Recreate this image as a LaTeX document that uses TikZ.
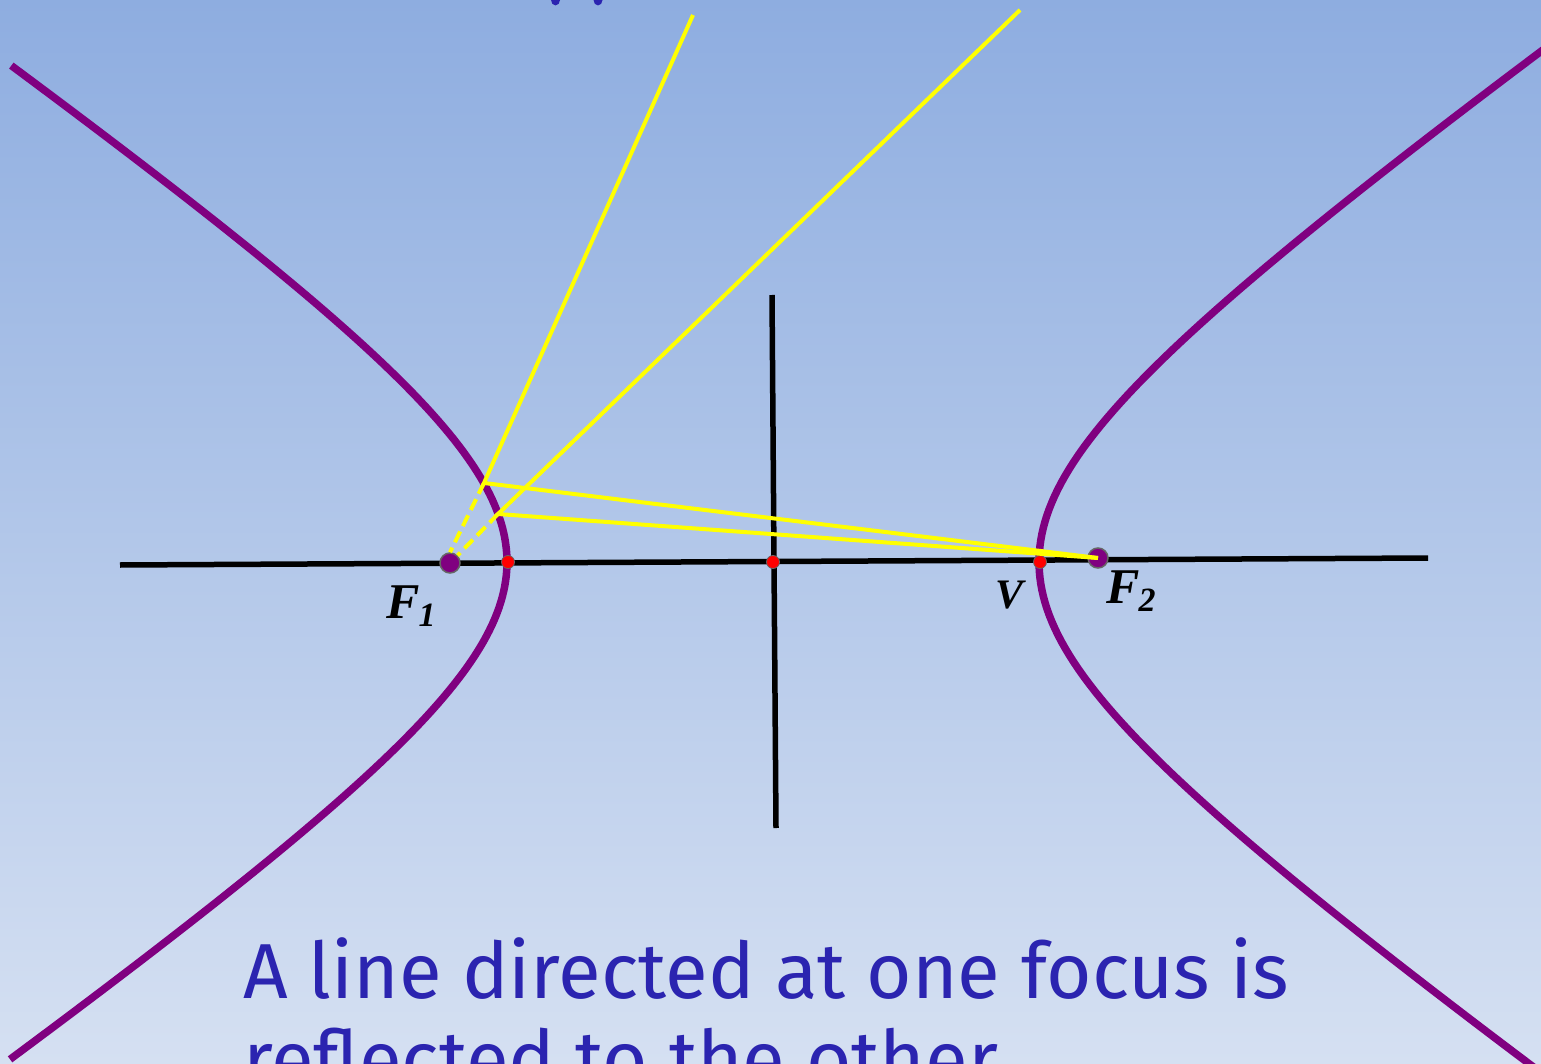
\documentclass[tikz,border=0pt]{standalone}
\usepackage{fontspec}
\setmainfont{Liberation Serif}
\newfontfamily\txtfont{Fira Sans}
\usetikzlibrary{calc}
\definecolor{bgtop}{HTML}{8EADE0}
\definecolor{bgbot}{HTML}{D5E0F2}
\definecolor{hyp}{HTML}{800080}
\definecolor{txtblue}{HTML}{2B24B0}
\definecolor{ray}{HTML}{FFFF00}
\tikzset{
  hypline/.style={hyp, line width=7.5pt},
  axisline/.style={black, line width=5.5pt},
  rayline/.style={ray, line width=4pt, line join=miter},
  raydash/.style={ray, line width=4pt, dash pattern=on 12pt off 6pt},
  reddot/.style={circle, fill=red, draw=black!60, line width=0.8pt, minimum size=13pt, inner sep=0pt},
  focusdot/.style={circle, fill=hyp, draw=black!60, line width=1.5pt, minimum size=20pt, inner sep=0pt},
  lbl/.style={inner sep=0pt, anchor=base west, font=\fontsize{50}{50}\selectfont\bfseries\itshape},
  caption/.style={inner sep=0pt, anchor=base west, txtblue, font=\txtfont\fontsize{78}{88}\selectfont}
}
\begin{document}
\begin{tikzpicture}[x=1pt,y=-1pt]
\shade[top color=bgtop, bottom color=bgbot] (0,0) rectangle (1541,1064);
\useasboundingbox (0,0) rectangle (1541,1064);
\begin{scope}
\clip (0,0) rectangle (1541,1064);
% hyperbola branches: centre (773,562), a=266, b=185
\draw[hypline] plot[domain=-1.95:1.95, samples=120, variable=\t] ({773+266*cosh(\t)}, {562-186*sinh(\t)-4*\t});
\draw[hypline] plot[domain=-1.715:1.715, samples=120, variable=\t] ({773-266*cosh(\t)}, {562-185*sinh(\t)});
% top cut-off letter bits
\fill[txtblue] (555.5,0) ellipse [x radius=4.5, y radius=5.5];
\fill[txtblue] (598,0) ellipse [x radius=4.5, y radius=5.5];
\end{scope}

% points
\coordinate (AL) at (120,565);
\coordinate (AR) at (1428,558);
\coordinate (AT) at (772,295);
\coordinate (AB) at (776,828);
\coordinate (P1) at (484,483);
\coordinate (P2) at (498,514);
\coordinate (E1) at (693,15);
\coordinate (E2) at (1020,10);

% axes
\draw[axisline] (AL) -- (AR);
\draw[axisline] (AT) -- (AB);

% dots
\node[reddot] (O) at (773,562) {};
\node[reddot] (V1) at (508,562) {};
\node[reddot] (V2) at (1040,562) {};
\node[focusdot] (F1) at (450,563) {};
\node[focusdot] (F2) at (1098,558) {};

% rays
\draw[rayline] (E1) -- (P1) -- (F2.center);
\draw[rayline] (E2) -- (P2) -- (F2.center);
\draw[raydash] (P1) -- (F1.north);
\draw[raydash] (P2) -- (F1.north east);

% labels
\node[lbl] (LF1) at (386,618) {F\kern-1pt\raisebox{-8pt}{\fontsize{34}{34}\selectfont 1}};
\node[lbl] (LF2) at (1106,603) {F\kern-1pt\raisebox{-8pt}{\fontsize{34}{34}\selectfont 2}};
\node[lbl, font=\fontsize{42}{42}\selectfont\bfseries\itshape] (LV) at (995,608) {V};

% caption
\node[caption] (C1) at (243,998) {A line directed at one focus is};
\node[caption] (C2) at (243,1086) {reflected to the other};
\end{tikzpicture}
\end{document}
